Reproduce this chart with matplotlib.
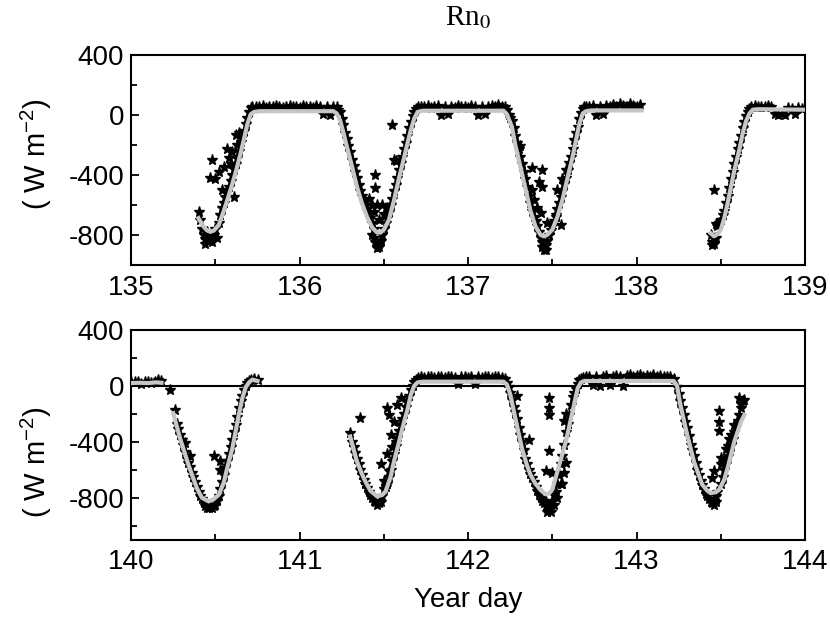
import numpy as np
import matplotlib.pyplot as plt

plt.rcParams['font.family'] = 'Liberation Sans'
plt.rcParams['mathtext.fontset'] = 'custom'
plt.rcParams['mathtext.rm'] = 'Liberation Sans'
plt.rcParams['mathtext.it'] = 'Liberation Sans:italic'
plt.rcParams['axes.unicode_minus'] = False

nan = np.nan

# smooth fit (grey line), (year day, W m-2)
top_fit = [(135.40, -690), (135.43, -745), (135.45, -770), (135.47, -780), (135.49, -772),
           (135.52, -735), (135.55, -640), (135.59, -500), (135.62, -385), (135.65, -255),
           (135.67, -160), (135.69, -60), (135.71, 5), (135.73, 20), (135.76, 25),
           (136.20, 25), (136.22, 10), (136.24, -35), (136.26, -120), (136.28, -210),
           (136.31, -340), (136.34, -478), (136.37, -590), (136.40, -680), (136.43, -750),
           (136.46, -785), (136.48, -785), (136.50, -765), (136.53, -700), (136.56, -570),
           (136.59, -420), (136.62, -285), (136.64, -190), (136.66, -100), (136.68, -25),
           (136.70, 20), (136.73, 28), (137.21, 28), (137.23, 5), (137.26, -80),
           (137.28, -200), (137.31, -345), (137.34, -490), (137.37, -640), (137.40, -745),
           (137.43, -800), (137.45, -810), (137.47, -800), (137.50, -765), (137.53, -680),
           (137.56, -565), (137.59, -420), (137.62, -280), (137.64, -170), (137.66, -60),
           (137.68, 10), (137.70, 25), (137.73, 30), (138.03, 30), (138.04, nan),
           (138.44, -790), (138.46, -810), (138.48, -795), (138.50, -765), (138.52, -690),
           (138.54, -590), (138.56, -480), (138.58, -370), (138.61, -230), (138.63, -120),
           (138.65, -40), (138.67, 10), (138.69, 35), (138.72, 38), (139.00, 35)]

bot_fit = [(140.00, 20), (140.05, 22), (140.10, 20), (140.15, 25), (140.18, 22), (140.20, nan),
           (140.25, -195), (140.29, -374), (140.34, -564), (140.39, -731), (140.42, -800),
           (140.46, -826), (140.49, -810), (140.52, -779), (140.55, -690), (140.57, -588),
           (140.60, -450), (140.62, -326), (140.64, -200), (140.66, -88), (140.68, -10),
           (140.70, 25), (140.72, 45), (140.75, 35), (140.80, nan),
           (141.30, -362), (141.34, -540), (141.37, -630), (141.39, -683), (141.42, -750),
           (141.46, -790), (141.49, -780), (141.51, -755), (141.54, -650), (141.56, -540),
           (141.59, -400), (141.61, -302), (141.64, -170), (141.66, -64), (141.68, 0),
           (141.70, 25), (141.73, 30), (142.21, 30), (142.23, 10), (142.25, -60),
           (142.28, -230), (142.32, -450), (142.35, -570), (142.37, -636), (142.40, -700),
           (142.43, -745), (142.46, -775), (142.48, -770), (142.50, -740), (142.53, -612),
           (142.58, -398), (142.62, -183), (142.65, -17), (142.67, 25), (142.69, 35),
           (142.72, 35), (143.22, 35), (143.24, 0), (143.26, -136), (143.30, -350),
           (143.34, -540), (143.37, -640), (143.39, -707), (143.42, -750), (143.44, -767),
           (143.47, -760), (143.49, -743), (143.52, -670), (143.54, -588), (143.58, -398),
           (143.62, -255), (143.64, -207)]

# measured values (stars)
top_stars = [
    # day 135.5 trough
    (135.40, -650), (135.41, -700), (135.42, -760), (135.43, -800), (135.44, -830), (135.45, -780),
    (135.46, -840), (135.47, -820), (135.48, -850), (135.49, -800), (135.50, -760), (135.51, -820),
    (135.52, -720), (135.54, -620), (135.56, -550), (135.58, -480), (135.60, -400), (135.62, -330),
    (135.64, -240), (135.65, -180), (135.66, -150), (135.67, -110), (135.68, -60), (135.69, -20),
    (135.70, 20), (135.71, 45), (135.72, 55), (135.44, -860),
    (135.53, -670), (135.55, -590), (135.57, -510), (135.59, -440), (135.61, -360), (135.63, -290),
    (135.48, -300), (135.47, -420), (135.50, -430), (135.54, -500), (135.57, -230), (135.55, -345),
    (135.59, -330), (135.61, -545), (135.62, -135), (135.60, -250), (135.58, -290), (135.52, -380),
    (135.63, -200), (135.64, -120),
    # night
    (135.74, 55), (135.76, 50), (135.78, 60), (135.80, 45), (135.82, 55), (135.84, 50), (135.86, 60),
    (135.88, 50), (135.90, 45), (135.92, 55), (135.94, 60), (135.96, 50), (135.98, 55), (136.00, 45),
    (136.02, 60), (136.04, 50), (136.06, 55), (136.08, 45), (136.10, 60), (136.12, 50), (136.14, 5),
    (136.16, 55), (136.18, 0), (136.20, 50),
    # day 136.5 trough
    (136.22, 50), (136.24, 20), (136.26, -70), (136.28, -160), (136.30, -250), (136.32, -340),
    (136.34, -420), (136.36, -510), (136.38, -570), (136.40, -630), (136.42, -690), (136.43, -800),
    (136.44, -760), (136.45, -850), (136.46, -890), (136.47, -860), (136.48, -840), (136.49, -800),
    (136.50, -760), (136.52, -690), (136.54, -600), (136.56, -510), (136.58, -420), (136.60, -320),
    (136.62, -230), (136.64, -140), (136.66, -50), (136.68, 20), (136.70, 55),
    (136.23, 30), (136.25, -30), (136.27, -120), (136.29, -210), (136.31, -300), (136.33, -380),
    (136.35, -470), (136.37, -540), (136.39, -600), (136.41, -660), (136.43, -720), (136.44, -820),
    (136.47, -880), (136.51, -720), (136.53, -650), (136.55, -560), (136.57, -470), (136.59, -370),
    (136.61, -280), (136.63, -190), (136.65, -90), (136.67, -10), (136.69, 40),
    (136.45, -400), (136.45, -490), (136.43, -600), (136.46, -600), (136.49, -600), (136.44, -650),
    (136.47, -700), (136.50, -660), (136.52, -620), (136.55, -70), (136.56, -300), (136.57, -310),
    (136.41, -560),
    # night
    (136.72, 55), (136.74, 50), (136.76, 60), (136.78, 45), (136.80, 55), (136.82, 60), (136.84, 0),
    (136.86, 50), (136.88, 5), (136.90, 55), (136.92, 45), (136.94, 60), (136.96, 50), (136.98, 55),
    (137.00, 45), (137.02, 60), (137.04, 50), (137.06, 0), (137.08, 55), (137.10, 5), (137.12, 50),
    (137.14, 60), (137.16, 55), (137.18, 65), (137.20, 50),
    # day 137.5 trough
    (137.22, 50), (137.24, 0), (137.26, -40), (137.28, -140), (137.30, -230), (137.32, -330),
    (137.34, -430), (137.36, -540), (137.38, -640), (137.40, -710), (137.42, -780), (137.44, -850),
    (137.45, -900), (137.46, -870), (137.47, -840), (137.48, -800), (137.50, -740), (137.52, -670),
    (137.54, -590), (137.56, -510), (137.58, -420), (137.60, -320), (137.62, -230), (137.64, -120),
    (137.66, -30), (137.68, 40), (137.70, 55),
    (137.23, 30), (137.25, -20), (137.27, -90), (137.29, -190), (137.31, -280), (137.33, -380),
    (137.35, -480), (137.37, -590), (137.39, -680), (137.41, -740), (137.43, -820), (137.44, -880),
    (137.46, -900), (137.49, -770), (137.51, -710), (137.53, -630), (137.55, -550), (137.57, -460),
    (137.59, -370), (137.61, -280), (137.63, -170), (137.65, -80), (137.67, 10), (137.69, 50),
    (137.31, -210), (137.38, -355), (137.44, -367), (137.44, -478), (137.42, -445), (137.38, -500),
    (137.39, -570), (137.43, -655), (137.47, -720), (137.55, -733), (137.52, -680), (137.53, -500),
    (137.56, -430), (137.58, -365), (137.41, -620),
    # night
    (137.72, 55), (137.74, 60), (137.76, 0), (137.78, 50), (137.80, 5), (137.82, 60), (137.84, 55),
    (137.86, 65), (137.88, 50), (137.90, 70), (137.92, 60), (137.94, 55), (137.96, 70), (137.98, 60),
    (138.00, 50), (138.02, 65),
    # day 138.5 trough
    (138.44, -800), (138.45, -850), (138.46, -860), (138.47, -820), (138.48, -740), (138.50, -700),
    (138.52, -640), (138.54, -540), (138.56, -430), (138.58, -330), (138.60, -230), (138.62, -140),
    (138.64, -50), (138.66, 20), (138.68, 55), (138.46, -500), (138.47, -730), (138.45, -870),
    (138.49, -720), (138.51, -670), (138.53, -590), (138.55, -490), (138.57, -380), (138.59, -280),
    (138.61, -190), (138.63, -90), (138.65, -10), (138.67, 40),
    (138.70, 60), (138.72, 55), (138.74, 50), (138.76, 55), (138.78, 60), (138.80, 50), (138.82, 5),
    (138.84, 0), (138.86, 5), (138.88, 0), (138.90, 45), (138.92, 40), (138.94, 5), (138.96, 45),
    (138.98, 40),
]

bot_stars = [
    (140.00, 30), (140.02, 25), (140.04, 30), (140.06, 15), (140.08, 30), (140.10, 25), (140.12, 20),
    (140.14, 30), (140.16, 40), (140.18, 35), (140.23, -30),
    # day 140.5 trough
    (140.26, -175), (140.27, -270), (140.29, -350), (140.31, -420), (140.33, -520), (140.35, -580),
    (140.37, -650), (140.39, -720), (140.41, -790), (140.43, -840), (140.44, -860), (140.45, -870),
    (140.46, -870), (140.47, -860), (140.48, -870), (140.49, -860), (140.50, -850), (140.51, -820),
    (140.53, -740), (140.55, -640), (140.57, -540), (140.59, -440), (140.61, -330), (140.63, -220),
    (140.65, -110), (140.67, -30), (140.69, 20), (140.71, 40), (140.73, 50), (140.75, 40),
    (140.28, -310), (140.30, -390), (140.32, -470), (140.34, -550), (140.36, -620), (140.38, -690),
    (140.40, -760), (140.42, -810), (140.52, -790), (140.54, -690), (140.56, -590), (140.58, -490),
    (140.60, -390), (140.62, -280), (140.64, -160), (140.66, -70), (140.68, 0), (140.70, 35),
    (140.49, -505), (140.53, -540), (140.53, -600), (140.35, -505), (140.32, -408),
    # day 141.5 trough
    (141.30, -340), (141.31, -400), (141.33, -480), (141.35, -560), (141.37, -640), (141.39, -700),
    (141.41, -760), (141.43, -800), (141.45, -830), (141.47, -840), (141.48, -830), (141.49, -790),
    (141.50, -740), (141.52, -700), (141.54, -600), (141.56, -490), (141.58, -370), (141.60, -280),
    (141.62, -200), (141.64, -110), (141.66, -30), (141.68, 30), (141.70, 55),
    (141.32, -440), (141.34, -520), (141.36, -600), (141.38, -670), (141.40, -730), (141.42, -780),
    (141.44, -820), (141.46, -850), (141.51, -720), (141.53, -650), (141.55, -540), (141.57, -430),
    (141.59, -320), (141.61, -240), (141.63, -150), (141.65, -70), (141.67, 0), (141.69, 45),
    (141.36, -231), (141.48, -560), (141.50, -680), (141.52, -490), (141.52, -160), (141.53, -210),
    (141.54, -350), (141.56, -260), (141.57, -400), (141.58, -140), (141.60, -90), (141.55, -440),
    (141.53, -610),
    # night
    (141.72, 60), (141.74, 55), (141.76, 65), (141.78, 60), (141.80, 55), (141.82, 65), (141.84, 60),
    (141.86, 55), (141.88, 65), (141.90, 60), (141.92, 55), (141.94, 10), (141.96, 60), (141.98, 65),
    (142.00, 55), (142.02, 60), (142.04, 10), (142.06, 65), (142.08, 55), (142.10, 60), (142.12, 65),
    (142.14, 55), (142.16, 60), (142.18, 65), (142.20, 55),
    # day 142.5 trough
    (142.22, 50), (142.24, -10), (142.26, -100), (142.28, -190), (142.30, -300), (142.32, -400),
    (142.34, -520), (142.36, -600), (142.38, -660), (142.40, -720), (142.42, -780), (142.44, -820),
    (142.46, -860), (142.47, -900), (142.48, -880), (142.49, -850), (142.50, -820), (142.51, -780),
    (142.52, -760), (142.53, -700), (142.54, -640), (142.55, -560), (142.56, -500), (142.57, -420),
    (142.58, -330), (142.59, -270), (142.60, -210), (142.61, -140), (142.62, -80), (142.64, -20),
    (142.66, 40), (142.68, 55),
    (142.23, 20), (142.25, -50), (142.27, -150), (142.29, -240), (142.31, -350), (142.33, -460),
    (142.35, -560), (142.37, -630), (142.39, -690), (142.41, -750), (142.43, -800), (142.45, -840),
    (142.46, -830), (142.49, -900), (142.51, -850), (142.53, -800), (142.55, -700), (142.63, -50),
    (142.65, 10), (142.67, 50),
    (142.48, -88), (142.48, -160), (142.48, -210), (142.48, -469), (142.46, -612), (142.50, -620),
    (142.29, -76), (142.36, -390), (142.56, -700), (142.57, -620), (142.58, -550), (142.57, -250),
    (142.58, -200),
    # night
    (142.70, 60), (142.72, 65), (142.74, 5), (142.76, 60), (142.78, 0), (142.80, 65), (142.82, 70),
    (142.84, 5), (142.86, 65), (142.88, 70), (142.90, 60), (142.92, 0), (142.94, 70), (142.96, 75),
    (142.98, 65), (143.00, 70), (143.02, 75), (143.04, 65), (143.06, 70), (143.08, 60), (143.10, 75),
    (143.12, 65), (143.14, 70), (143.16, 60), (143.18, 65), (143.20, 60), (143.22, 50),
    # day 143.5 trough
    (143.24, -10), (143.26, -110), (143.28, -210), (143.30, -300), (143.32, -420), (143.34, -500),
    (143.36, -600), (143.38, -680), (143.40, -740), (143.42, -790), (143.44, -830), (143.45, -840),
    (143.46, -820), (143.47, -790), (143.48, -760), (143.50, -700), (143.51, -650), (143.52, -600),
    (143.53, -560), (143.54, -500), (143.55, -470), (143.56, -420), (143.57, -380), (143.58, -330),
    (143.59, -290), (143.60, -250), (143.61, -210), (143.62, -160), (143.63, -110), (143.64, -100),
    (143.25, -60), (143.27, -160), (143.29, -260), (143.31, -360), (143.33, -460), (143.35, -550),
    (143.37, -640), (143.39, -710), (143.41, -770), (143.43, -810), (143.46, -850), (143.47, -830),
    (143.49, -183), (143.49, -255), (143.49, -326), (143.50, -515), (143.46, -612), (143.45, -660),
    (143.61, -88), (143.62, -130), (143.50, -560), (143.52, -520), (143.54, -430), (143.56, -350),
    (143.58, -280), (143.53, -450), (143.55, -380),
]

fig = plt.figure(figsize=(8.3, 6.32), dpi=100)
ax1 = fig.add_axes([0.158, 0.581, 0.812, 0.332])
ax2 = fig.add_axes([0.158, 0.146, 0.812, 0.332])

panels = [(ax1, top_stars, top_fit, 135, (-1000, 400), 0.53),
          (ax2, bot_stars, bot_fit, 140, (-1100, 400), 0.37)]

for ax, stars, fit, d0, ylim, lab_y in panels:
    sx, sy = zip(*stars)
    fx, fy = zip(*fit)
    ax.plot(sx, sy, ls='none', marker='*', ms=8, color='black', zorder=2)
    ax.plot(fx, fy, color='#c6c6c6', lw=3, zorder=3)
    ax.set_xlim(d0, d0 + 4)
    ax.set_ylim(*ylim)
    ax.set_xticks(np.arange(d0, d0 + 5))
    ax.set_xticks(np.arange(d0 + 0.5, d0 + 4, 1.0), minor=True)
    ax.set_yticks([-800, -400, 0, 400])
    ax.set_yticks([-1000, -600, -200, 200], minor=True)
    ax.tick_params(which='both', direction='in', top=False, right=False,
                   labelsize=20, width=1.3)
    ax.tick_params(axis='x', which='both', pad=7)
    ax.tick_params(axis='y', which='both', pad=5)
    ax.tick_params(which='major', length=6)
    ax.tick_params(which='minor', length=4)
    for s in ax.spines.values():
        s.set_linewidth(1.5)
    ax.set_ylabel(r'( W m$^{-2}$)', fontsize=21)
    ax.yaxis.set_label_coords(-0.115, lab_y)

ax2.axhline(0, color='black', lw=1.5, zorder=1)

fig.text(0.564, 0.972, r'Rn$_0$', ha='center', va='center', fontsize=21,
         family='Liberation Serif', math_fontfamily='stix')
fig.text(0.564, 0.05, 'Year day', ha='center', va='center', fontsize=20)

fig.savefig('out.png', dpi=100)
